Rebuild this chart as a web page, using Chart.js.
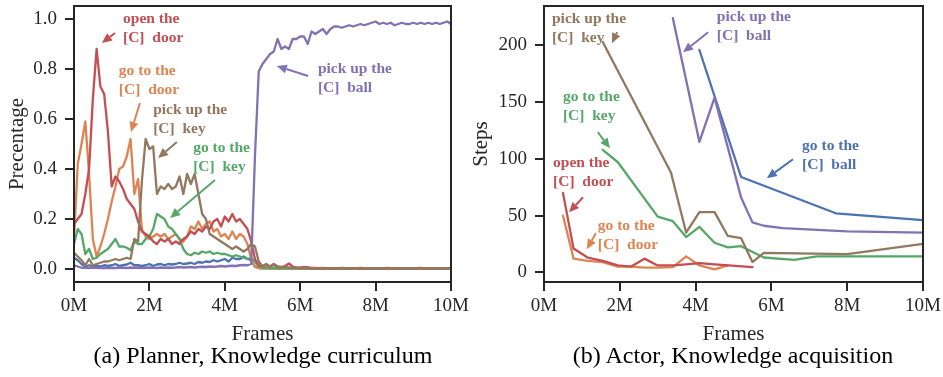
<!DOCTYPE html>
<html><head><meta charset="utf-8">
<script src="https://cdn.jsdelivr.net/npm/chart.js@4"></script>
<style>
html,body{margin:0;padding:0;background:#fff;width:943px;height:377px;overflow:hidden;}
canvas{position:absolute;top:0;}
#ca{left:0;}
#cb{left:470px;}
.cap{position:absolute;top:340px;font-family:"Liberation Serif",serif;font-size:24px;color:#000;white-space:nowrap;transform:translateX(-50%);line-height:30px;}
</style></head><body>
<canvas id="ca" width="470" height="345"></canvas>
<canvas id="cb" width="473" height="345"></canvas>
<div class="cap" style="left:263px">(a) Planner, Knowledge curriculum</div>
<div class="cap" style="left:733px">(b) Actor, Knowledge acquisition</div>
<script>
// ---------- data: panel (a) ----------
const framesA = [0,0.1,0.2,0.3,0.4,0.5,0.6,0.7,0.8,0.9,
 1.0,1.1,1.2,1.3,1.4,1.5,1.6,1.7,1.8,1.9,
 2.0,2.1,2.2,2.3,2.4,2.5,2.6,2.7,2.8,2.9,
 3.0,3.1,3.2,3.3,3.4,3.5,3.6,3.7,3.8,3.9,
 4.0,4.1,4.2,4.3,4.4,4.5,4.6,4.7,4.8,4.9,
 5.0,5.1,5.2,5.3,5.4,5.5,5.6,5.7,5.8,5.9,
 6.0,6.1,6.2,6.3,6.4,6.5,6.6,6.7,6.8,6.9,
 7.0,7.1,7.2,7.3,7.4,7.5,7.6,7.7,7.8,7.9,
 8.0,8.1,8.2,8.3,8.4,8.5,8.6,8.7,8.8,8.9,
 9.0,9.1,9.2,9.3,9.4,9.5,9.6,9.7,9.8,9.9,
 10.0];
const aGoBall = [0.045,0.035,0.02,0.01,0.015,0.01,0.012,0.01,0.015,0.012,
 0.015,0.02,0.012,0.015,0.018,0.025,0.015,0.015,0.012,0.015,
 0.02,0.012,0.018,0.02,0.015,0.02,0.018,0.02,0.025,0.02,
 0.022,0.025,0.02,0.028,0.025,0.03,0.028,0.035,0.03,0.035,
 0.04,0.03,0.045,0.04,0.04,0.05,0.04,0.035,0.01,0.005,
 0.004,0.004,0.003,0.004,0.003,0.003,0.004,0.003,0.003,0.003,
 0.003,0.003,0.004,0.003,0.003,0.003,0.003,0.003,0.003,0.003,
 0.003,0.003,0.003,0.003,0.003,0.003,0.003,0.003,0.003,0.003,
 0.003,0.003,0.003,0.003,0.003,0.003,0.003,0.003,0.003,0.003,
 0.003,0.003,0.003,0.003,0.003,0.003,0.003,0.003,0.003,0.003,
 0.003];
const aGoDoor = [0.12,0.42,0.50,0.59,0.38,0.12,0.05,0.09,0.14,0.20,
 0.27,0.33,0.40,0.41,0.45,0.52,0.30,0.36,0.16,0.13,
 0.12,0.13,0.14,0.13,0.14,0.12,0.13,0.14,0.12,0.11,
 0.13,0.17,0.16,0.19,0.16,0.18,0.19,0.15,0.16,0.13,
 0.14,0.12,0.15,0.12,0.14,0.13,0.10,0.04,0.008,0.003,
 0.002,0.003,0.002,0.002,0.003,0.002,0.002,0.002,0.003,0.002,
 0.002,0.002,0.002,0.002,0.002,0.002,0.002,0.002,0.002,0.002,
 0.002,0.002,0.002,0.002,0.002,0.002,0.002,0.002,0.002,0.002,
 0.002,0.002,0.002,0.002,0.002,0.002,0.002,0.002,0.002,0.002,
 0.002,0.002,0.002,0.002,0.002,0.002,0.002,0.002,0.002,0.002,
 0.002];
const aGoKey = [0.10,0.16,0.14,0.06,0.08,0.04,0.045,0.06,0.07,0.08,
 0.10,0.12,0.09,0.09,0.085,0.075,0.11,0.10,0.10,0.12,
 0.13,0.16,0.22,0.21,0.20,0.17,0.16,0.14,0.12,0.08,
 0.06,0.055,0.065,0.06,0.07,0.065,0.07,0.06,0.065,0.06,
 0.06,0.055,0.05,0.055,0.05,0.045,0.04,0.045,0.03,0.01,
 0.006,0.004,0.004,0.005,0.003,0.003,0.004,0.003,0.003,0.003,
 0.003,0.003,0.003,0.003,0.003,0.003,0.003,0.003,0.003,0.003,
 0.003,0.003,0.003,0.003,0.003,0.003,0.003,0.003,0.003,0.003,
 0.003,0.003,0.003,0.003,0.003,0.003,0.003,0.003,0.003,0.003,
 0.003,0.003,0.003,0.003,0.003,0.003,0.003,0.003,0.003,0.003,
 0.003];
const aOpenDoor = [0.18,0.20,0.22,0.30,0.40,0.68,0.88,0.73,0.70,0.55,
 0.33,0.37,0.35,0.32,0.28,0.26,0.24,0.19,0.15,0.14,
 0.13,0.11,0.10,0.12,0.11,0.12,0.10,0.11,0.10,0.12,
 0.13,0.15,0.14,0.16,0.15,0.17,0.16,0.19,0.20,0.17,
 0.21,0.19,0.22,0.19,0.20,0.18,0.16,0.11,0.04,0.015,
 0.010,0.015,0.010,0.020,0.010,0.008,0.012,0.022,0.010,0.006,
 0.005,0.008,0.006,0.004,0.004,0.003,0.004,0.003,0.003,0.003,
 0.003,0.004,0.003,0.003,0.003,0.003,0.004,0.003,0.003,0.003,
 0.003,0.003,0.003,0.004,0.003,0.003,0.003,0.003,0.003,0.003,
 0.003,0.003,0.004,0.003,0.003,0.003,0.003,0.003,0.003,0.003,
 0.003];
const aPickBall = [0.015,0.01,0.005,0.005,0.004,0.006,0.005,0.004,0.005,0.004,
 0.005,0.004,0.006,0.005,0.004,0.006,0.005,0.005,0.004,0.005,
 0.006,0.005,0.004,0.006,0.005,0.006,0.005,0.006,0.008,0.006,
 0.007,0.008,0.006,0.008,0.009,0.008,0.01,0.009,0.01,0.012,
 0.01,0.012,0.013,0.012,0.015,0.016,0.015,0.02,0.45,0.79,
 0.82,0.84,0.86,0.87,0.92,0.88,0.89,0.88,0.92,0.92,
 0.93,0.93,0.90,0.95,0.94,0.95,0.96,0.94,0.96,0.97,
 0.97,0.965,0.97,0.975,0.97,0.975,0.98,0.975,0.98,0.985,
 0.99,0.98,0.985,0.98,0.985,0.975,0.98,0.985,0.98,0.98,
 0.985,0.98,0.985,0.98,0.985,0.98,0.985,0.98,0.985,0.99,
 0.98];
const aPickKey = [0.065,0.05,0.035,0.015,0.04,0.015,0.02,0.025,0.03,0.03,
 0.035,0.04,0.035,0.04,0.045,0.04,0.12,0.11,0.35,0.52,
 0.48,0.49,0.30,0.33,0.32,0.34,0.32,0.33,0.37,0.30,
 0.38,0.34,0.38,0.30,0.22,0.20,0.14,0.13,0.12,0.11,
 0.10,0.09,0.08,0.09,0.08,0.07,0.08,0.10,0.09,0.03,
 0.012,0.02,0.01,0.018,0.008,0.006,0.01,0.006,0.005,0.004,
 0.004,0.003,0.004,0.003,0.003,0.003,0.003,0.003,0.003,0.003,
 0.003,0.003,0.003,0.003,0.003,0.003,0.003,0.003,0.003,0.003,
 0.003,0.003,0.003,0.003,0.003,0.003,0.003,0.003,0.003,0.003,
 0.003,0.003,0.003,0.003,0.003,0.003,0.003,0.003,0.003,0.003,
 0.003];

// ---------- data: panel (b) ----------
const bGoBallX = [4.1,5.2,7.7,10.0];
const bGoBall  = [196,84,52,46];
const bGoDoorX = [0.5,0.78,1.15,1.55,1.95,2.3,2.65,3.0,3.4,3.75,4.1,4.5,4.85];
const bGoDoor  = [50,12,10,9,5,5,4,4,4.5,14,6,2.5,6];
const bGoKeyX  = [1.55,1.95,3.0,3.4,3.75,4.1,4.5,4.85,5.2,5.8,6.6,7.2,8.0,10.0];
const bGoKey   = [108,97,49,45,31,40,26,22,23,13,11,14,14,14];
const bOpenDoorX = [0.5,0.78,1.15,1.55,1.95,2.3,2.65,3.0,3.4,3.75,4.1,4.5,5.5];
const bOpenDoor  = [70,21,13,10,6,5,12,6,6,7,8,7,4.5];
const bPickBallX = [3.4,4.1,4.5,5.2,5.5,5.8,6.3,8.0,10.0];
const bPickBall  = [224,115,154,66,44,41,39,36,35];
const bPickKeyX  = [1.55,3.35,3.75,4.1,4.5,4.85,5.2,5.5,5.8,8.0,10.0];
const bPickKey   = [203,88,35,53,53,32,30,9,17,16,25];

// ---------- ticks ----------
const xTickValues = [0,2,4,6,8,10];
const xTickLabels = ['0M','2M','4M','6M','8M','10M'];
const aYTickValues = [0,0.2,0.4,0.6,0.8,1.0];
const aYTickLabels = ['0.0','0.2','0.4','0.6','0.8','1.0'];
const bYTickValues = [0,50,100,150,200];
const bYTickLabels = ['0','50','100','150','200'];

const C = {blue:'#4C72B0', orange:'#DD8452', green:'#55A868', red:'#C44E52', purple:'#8172B3', brown:'#937860'};
const INK = '#262626';
const SERIF = '"Liberation Serif", "DejaVu Serif", serif';

function pts(xs, ys){ return ys.map((v,i)=>({x:xs[i], y:v})); }
function ds(data, color, order){
  return {data, borderColor:color, backgroundColor:color, borderWidth:2.3, pointRadius:0,
    tension:0, fill:false, order, borderJoinStyle:'round', borderCapStyle:'round'};
}

const framePlugin = {
  id:'frame',
  afterDraw(chart){
    const {ctx, chartArea:a} = chart;
    ctx.save(); ctx.strokeStyle = INK; ctx.lineWidth = 2;
    ctx.strokeRect(a.left, a.top, a.right-a.left, a.bottom-a.top);
    ctx.restore();
  }
};
const annotPlugin = {
  id:'annot',
  afterDatasetsDraw(chart, args, opts){
    const {ctx, scales:{x, y}} = chart;
    ctx.save();
    for (const a of (opts.items||[])){
      ctx.fillStyle = a.color; ctx.strokeStyle = a.color;
      ctx.font = 'bold 15.5px ' + SERIF;
      ctx.textAlign = 'left'; ctx.textBaseline = 'middle';
      const tx = x.getPixelForValue(a.text[0]), ty = y.getPixelForValue(a.text[1]);
      a.lines.forEach((l,i)=>ctx.fillText(l, tx, ty + i*19));
      const x0 = x.getPixelForValue(a.from[0]), y0 = y.getPixelForValue(a.from[1]);
      const x1 = x.getPixelForValue(a.to[0]),   y1 = y.getPixelForValue(a.to[1]);
      const ang = Math.atan2(y1-y0, x1-x0), hl = 10, hw = 4.5;
      const bx = x1 - hl*Math.cos(ang), by = y1 - hl*Math.sin(ang);
      ctx.lineWidth = 2;
      ctx.beginPath(); ctx.moveTo(x0,y0); ctx.lineTo(bx,by); ctx.stroke();
      ctx.beginPath(); ctx.moveTo(x1,y1);
      ctx.lineTo(bx + hw*Math.sin(ang), by - hw*Math.cos(ang));
      ctx.lineTo(bx - hw*Math.sin(ang), by + hw*Math.cos(ang));
      ctx.closePath(); ctx.fill();
    }
    ctx.restore();
  }
};

function scales(yMin, yMax, yVals, yLabels, yTitle, yTitlePad){
  const tickFont = {family:SERIF, size:19};
  const grid = {display:true, drawOnChartArea:false, drawTicks:true, tickLength:9, tickWidth:2, tickColor:INK, color:INK, lineWidth:2};
  return {
    x:{type:'linear', min:0, max:10,
      afterBuildTicks:s=>{ s.ticks = xTickValues.map(v=>({value:v})); },
      afterFit:s=>{ s.height = 63; s.paddingLeft = 0; s.paddingRight = 0; },
      ticks:{callback:(v,i)=>xTickLabels[i], font:tickFont, color:INK, padding:4, maxRotation:0, autoSkip:false},
      grid, border:{display:false},
      title:{display:true, text:'Frames', color:INK, font:{family:SERIF, size:21, lineHeight:1}, padding:{top:0, bottom:0.5}}},
    y:{type:'linear', min:yMin, max:yMax,
      afterBuildTicks:s=>{ s.ticks = yVals.map(v=>({value:v})); },
      afterFit:s=>{ s.width = 74; s.paddingTop = 0; s.paddingBottom = 0; },
      ticks:{callback:(v,i)=>yLabels[i], font:tickFont, color:INK, padding:8, autoSkip:false},
      grid, border:{display:false},
      title:{display:true, text:yTitle, color:INK, font:{family:SERIF, size:21, lineHeight:1}, padding:{top:yTitlePad, bottom:0}}}
  };
}

const common = {responsive:false, animation:false, devicePixelRatio:1,
  plugins:{legend:{display:false}, tooltip:{enabled:false}}};

new Chart(document.getElementById('ca'), {
  type:'line',
  data:{datasets:[
    ds(pts(framesA, aGoBall), C.blue, 6),
    ds(pts(framesA, aGoDoor), C.orange, 5),
    ds(pts(framesA, aGoKey), C.green, 4),
    ds(pts(framesA, aOpenDoor), C.red, 3),
    ds(pts(framesA, aPickBall), C.purple, 2),
    ds(pts(framesA, aPickKey), C.brown, 1)
  ]},
  options:Object.assign({}, common, {
    layout:{padding:{top:6, right:19, left:0, bottom:0}},
    scales:scales(-0.052, 1.052, aYTickValues, aYTickLabels, 'Precentage', 6.5),
    plugins:Object.assign({}, common.plugins, {annot:{items:[
      {lines:['open the','[C]  door'], color:C.red, text:[1.30,1.0], from:[1.09,0.944], to:[0.74,0.904]},
      {lines:['go to the','[C]  door'], color:C.orange, text:[1.19,0.792], from:[1.75,0.664], to:[1.51,0.548]},
      {lines:['pick up the','[C]  key'], color:C.brown, text:[2.10,0.636], from:[2.73,0.508], to:[2.23,0.444]},
      {lines:['go to the','[C]  key'], color:C.green, text:[3.16,0.484], from:[3.74,0.356], to:[2.55,0.204]},
      {lines:['pick up the','[C]  ball'], color:C.purple, text:[6.47,0.80], from:[6.21,0.772], to:[5.38,0.812]}
    ]}})
  }),
  plugins:[framePlugin, annotPlugin]
});

new Chart(document.getElementById('cb'), {
  type:'line',
  data:{datasets:[
    ds(pts(bGoBallX, bGoBall), C.blue, 6),
    ds(pts(bGoDoorX, bGoDoor), C.orange, 5),
    ds(pts(bGoKeyX, bGoKey), C.green, 4),
    ds(pts(bOpenDoorX, bOpenDoor), C.red, 3),
    ds(pts(bPickBallX, bPickBall), C.purple, 2),
    ds(pts(bPickKeyX, bPickKey), C.brown, 1)
  ]},
  options:Object.assign({}, common, {
    layout:{padding:{top:6, right:20, left:0, bottom:0}},
    scales:scales(-8.6, 234.8, bYTickValues, bYTickLabels, 'Steps', 0.5),
    plugins:Object.assign({}, common.plugins, {annot:{items:[
      {lines:['pick up the','[C]  key'], color:C.brown, text:[0.21,223], from:[1.93,211.6], to:[1.79,202]},
      {lines:['go to the','[C]  key'], color:C.green, text:[0.50,154.3], from:[1.42,123.5], to:[1.74,109.3]},
      {lines:['open the','[C]  door'], color:C.red, text:[0.24,96.1], from:[1.03,66.1], to:[0.66,52.9]},
      {lines:['go to the','[C]  door'], color:C.orange, text:[1.42,40.6], from:[1.37,34.4], to:[1.13,20.3]},
      {lines:['pick up the','[C]  ball'], color:C.purple, text:[4.56,224.9], from:[4.33,211.6], to:[3.67,194]},
      {lines:['go to the','[C]  ball'], color:C.blue, text:[6.81,111.1], from:[6.57,99.6], to:[5.88,82.9]}
    ]}})
  }),
  plugins:[framePlugin, annotPlugin]
});
</script>
</body></html>
